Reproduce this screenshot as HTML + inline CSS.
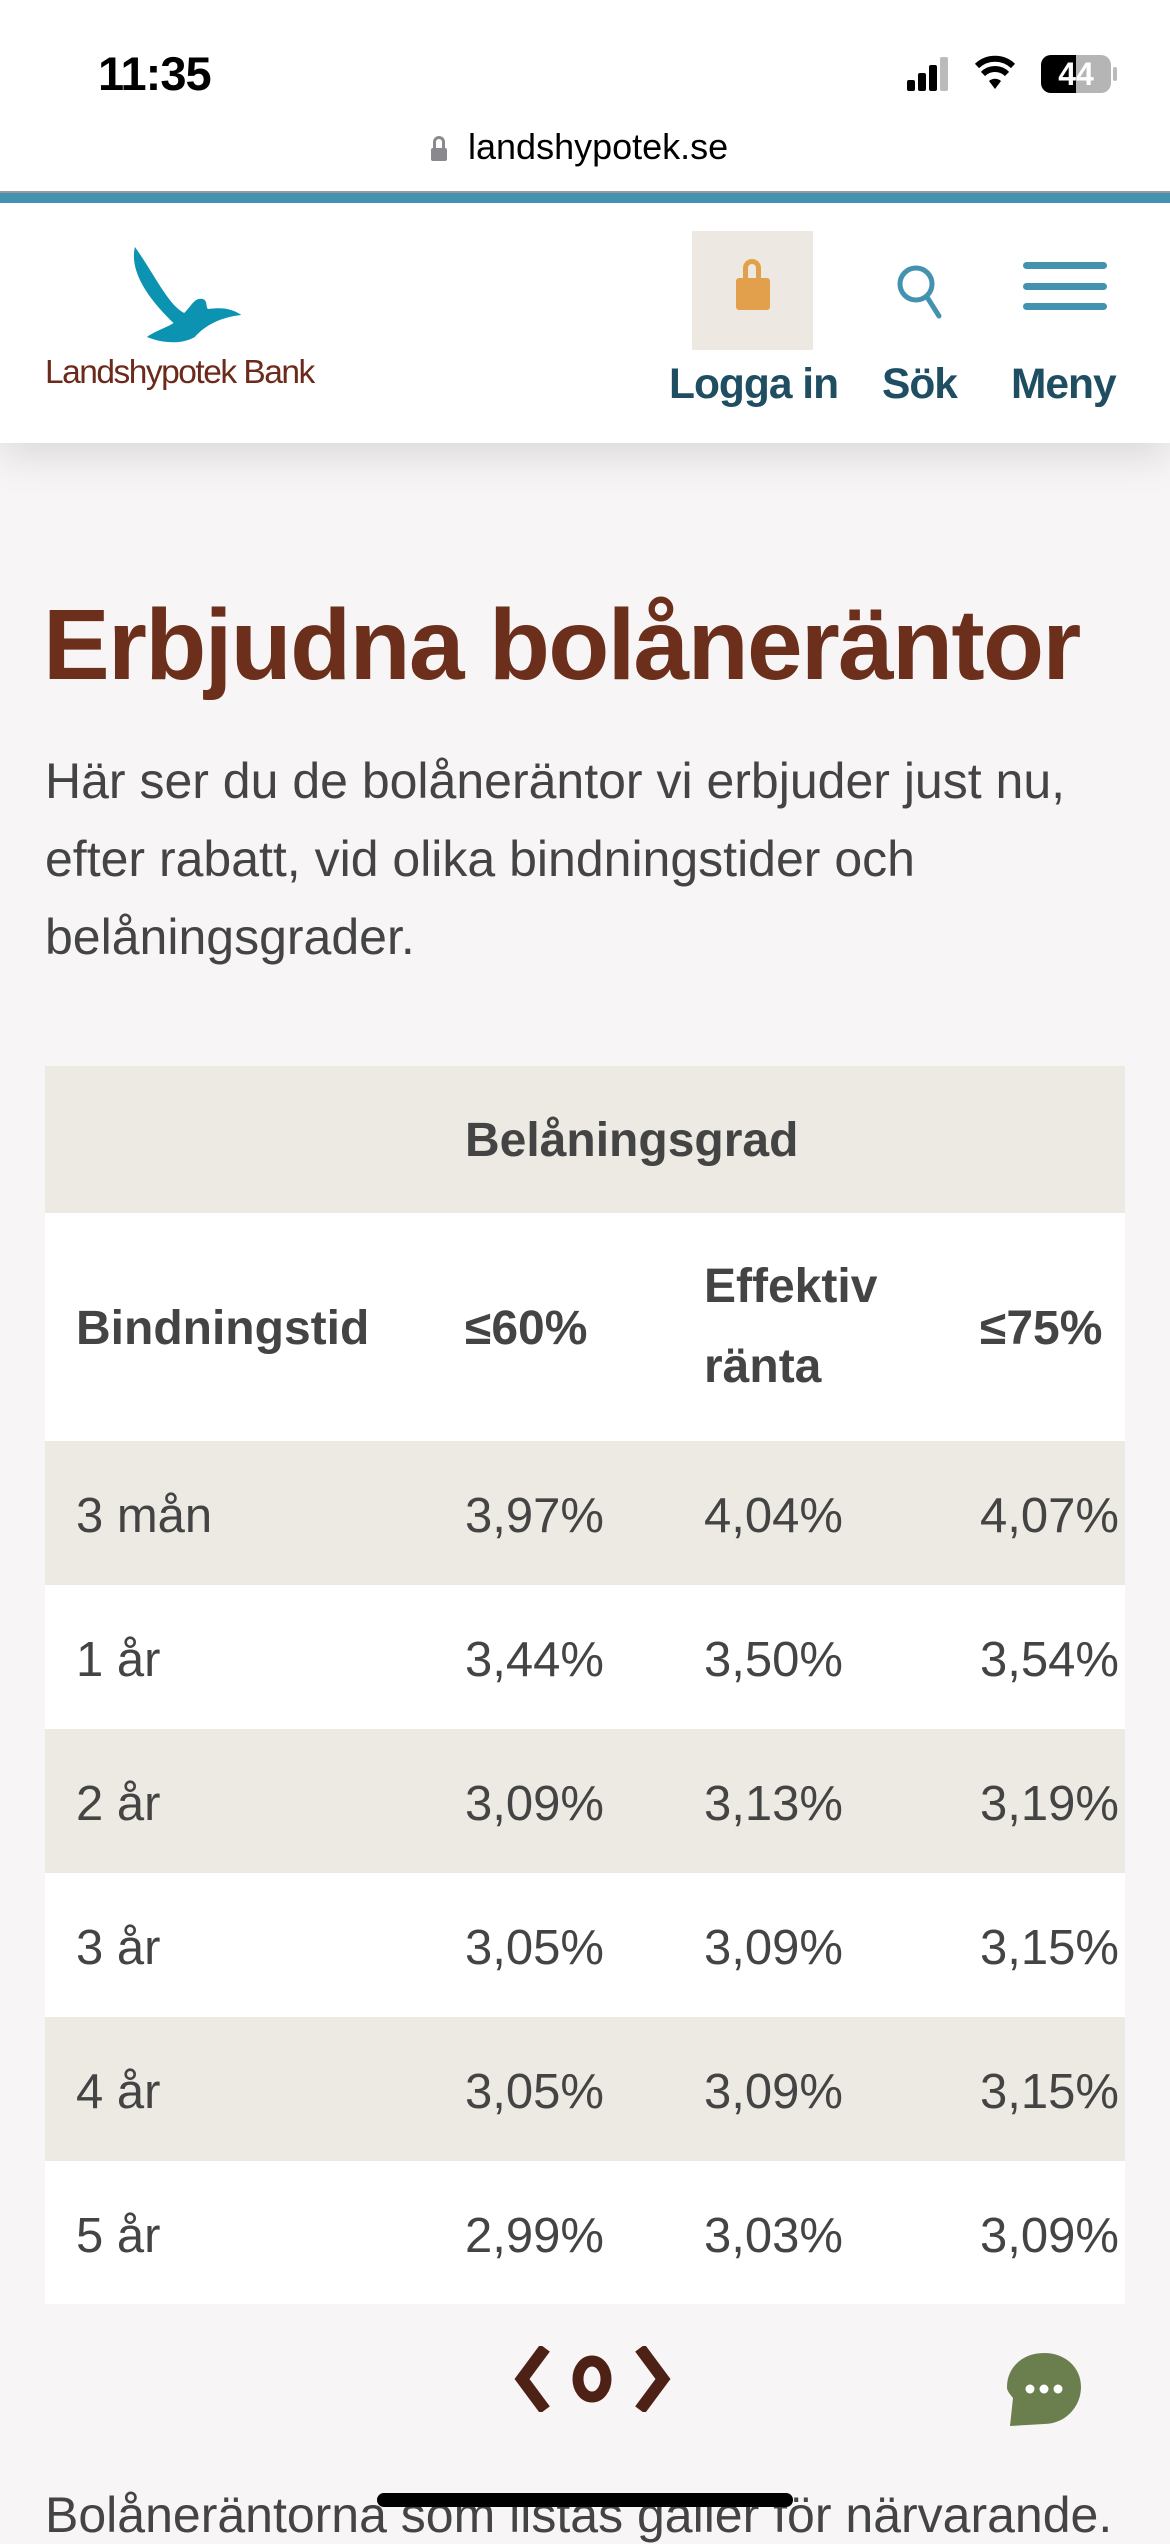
<!DOCTYPE html>
<html><head><meta charset="utf-8">
<style>
*{margin:0;padding:0;box-sizing:border-box}
body{width:1170px;height:2532px;overflow:hidden;background:#f7f5f5;font-family:"Liberation Sans",sans-serif;position:relative;color:#444}
.a{position:absolute;white-space:nowrap}
.hdr{position:absolute;left:0;top:0;width:1170px;height:443px;background:#fff;box-shadow:0 12px 40px rgba(0,0,0,0.12)}
.row{position:absolute;left:45px;width:1080px;height:144px}
.cell{position:absolute;font-size:49px;line-height:150px;color:#444}
.hd{font-weight:bold;font-size:48px;color:#444}
.lbl{position:absolute;top:361px;font-weight:bold;font-size:42.5px;color:#1f4e63;letter-spacing:-1px}
</style></head><body>
<div class="hdr"></div>
<div class="a" style="left:98px;top:46px;font-size:47px;font-weight:bold;color:#000;letter-spacing:-1px">11:35</div>
<!-- signal -->
<div class="a" style="left:907px;top:80px;width:8px;height:11px;background:#000;border-radius:2px"></div>
<div class="a" style="left:918px;top:73px;width:8px;height:18px;background:#000;border-radius:2px"></div>
<div class="a" style="left:929px;top:65px;width:8px;height:26px;background:#000;border-radius:2px"></div>
<div class="a" style="left:940px;top:57px;width:8px;height:34px;background:#bbb;border-radius:2px"></div>
<svg class="a" style="left:975px;top:55px" width="40" height="36" viewBox="0 0 40 36"><path d="M20 34 L14 26 A9 9 0 0 1 26 26 Z" fill="#000"/><path d="M8 19 A17 17 0 0 1 32 19" stroke="#000" stroke-width="6" fill="none"/><path d="M2 11 A26 26 0 0 1 38 11" stroke="#000" stroke-width="6" fill="none"/></svg>
<div class="a" style="left:1041px;top:55px;width:70px;height:38px;border-radius:10px;background:#b5b5b5;overflow:hidden"><div style="width:35px;height:38px;background:#000"></div></div>
<div class="a" style="left:1041px;top:55px;width:70px;height:38px;text-align:center;font-size:32px;line-height:38px;font-weight:bold;color:#fff">44</div>
<div class="a" style="left:1113px;top:67px;width:4px;height:14px;background:#bbb;border-radius:2px"></div>
<!-- url -->
<div class="a" style="left:431px;top:136px;width:16px;height:24px;"><div style="width:12px;height:12px;border:3px solid #8a8a8e;border-bottom:none;border-radius:6px 6px 0 0;margin-left:2px"></div><div style="width:16px;height:13px;background:#8a8a8e;border-radius:2px"></div></div>
<div class="a" style="left:468px;top:126px;font-size:36px;color:#000">landshypotek.se</div>
<div class="a" style="left:0;top:191px;width:1170px;height:2px;background:#999"></div>
<div class="a" style="left:0;top:193px;width:1170px;height:10px;background:#4392b0"></div>
<!-- logo -->
<svg class="a" style="left:115px;top:245px" width="130" height="100" viewBox="0 0 130 100" preserveAspectRatio="none"><path d="M15 2 C30 30 40 60 52 68 C58 60 60 52 66 54 C70 56 68 62 70 64 C82 62 88 64 95 70 C80 72 68 80 60 92 C50 100 35 98 24 92 C30 86 40 82 44 78 C30 60 10 30 15 2 Z" fill="#0c93b2" transform="translate(0,0) scale(1.33,1)"/></svg>
<div class="a" style="left:45px;top:354px;font-size:33.5px;color:#6b2a1a;letter-spacing:-1.5px">Landshypotek Bank</div>
<!-- login -->
<div class="a" style="left:692px;top:231px;width:121px;height:119px;background:#ede9e2"></div>
<div class="a" style="left:743px;top:259px;width:18px;height:22px;border:5px solid #e3a04c;border-bottom:none;border-radius:9px 9px 0 0"></div>
<div class="a" style="left:736px;top:278px;width:34px;height:32px;background:#e3a04c;border-radius:3px"></div>
<div class="lbl" style="left:669px">Logga in</div>
<svg class="a" style="left:895px;top:263px" width="50" height="58" viewBox="0 0 50 58"><circle cx="21" cy="21" r="16" stroke="#4392b0" stroke-width="5" fill="none"/><line x1="32" y1="34" x2="44" y2="53" stroke="#4392b0" stroke-width="5" stroke-linecap="round"/></svg>
<div class="lbl" style="left:882px">Sök</div>
<div class="a" style="left:1023px;top:262px;width:84px;height:7px;background:#4392b0;border-radius:4px"></div>
<div class="a" style="left:1023px;top:283px;width:84px;height:7px;background:#4392b0;border-radius:4px"></div>
<div class="a" style="left:1023px;top:303px;width:84px;height:7px;background:#4392b0;border-radius:4px"></div>
<div class="lbl" style="left:1011px">Meny</div>
<!-- title -->
<div class="a" style="left:43px;top:585px;font-size:100px;font-weight:bold;color:#6b2f1c;letter-spacing:-1.7px;line-height:120px">Erbjudna bolåneräntor</div>
<div class="a" style="left:45px;top:742px;font-size:50px;line-height:78px;color:#444;white-space:normal;width:1100px">Här ser du de bolåneräntor vi erbjuder just nu,<br>efter rabatt, vid olika bindningstider och<br>belåningsgrader.</div>
<!-- table -->
<div class="row" style="top:1066px;height:147px;background:#edeae3"><div class="cell hd" style="left:420px;line-height:150px">Belåningsgrad</div></div>
<div class="row" style="top:1213px;height:228px;background:#fff">
<div class="cell hd" style="left:31px;line-height:232px">Bindningstid</div>
<div class="cell hd" style="left:420px;line-height:232px">≤60%</div>
<div class="cell hd" style="left:659px;top:34px;line-height:80px">Effektiv<br>ränta</div>
<div class="cell hd" style="left:935px;line-height:232px">≤75%</div>
</div>
<div class="row" style="top:1441px;background:#edeae3"><div class="cell" style="left:31px">3 mån</div><div class="cell" style="left:420px">3,97%</div><div class="cell" style="left:659px">4,04%</div><div class="cell" style="left:935px">4,07%</div></div>
<div class="row" style="top:1585px;background:#fff"><div class="cell" style="left:31px">1 år</div><div class="cell" style="left:420px">3,44%</div><div class="cell" style="left:659px">3,50%</div><div class="cell" style="left:935px">3,54%</div></div>
<div class="row" style="top:1729px;background:#edeae3"><div class="cell" style="left:31px">2 år</div><div class="cell" style="left:420px">3,09%</div><div class="cell" style="left:659px">3,13%</div><div class="cell" style="left:935px">3,19%</div></div>
<div class="row" style="top:1873px;background:#fff"><div class="cell" style="left:31px">3 år</div><div class="cell" style="left:420px">3,05%</div><div class="cell" style="left:659px">3,09%</div><div class="cell" style="left:935px">3,15%</div></div>
<div class="row" style="top:2017px;background:#edeae3"><div class="cell" style="left:31px">4 år</div><div class="cell" style="left:420px">3,05%</div><div class="cell" style="left:659px">3,09%</div><div class="cell" style="left:935px">3,15%</div></div>
<div class="row" style="top:2161px;height:143px;background:#fff"><div class="cell" style="left:31px">5 år</div><div class="cell" style="left:420px">2,99%</div><div class="cell" style="left:659px">3,03%</div><div class="cell" style="left:935px">3,09%</div></div>
<!-- carousel -->
<svg class="a" style="left:510px;top:2346px" width="165" height="66" viewBox="0 0 165 66"><path d="M35 2 L12 33 L35 64" stroke="#4e2117" stroke-width="12" fill="none"/><ellipse cx="82" cy="33" rx="14" ry="18" stroke="#4e2117" stroke-width="11" fill="none"/><path d="M130 2 L153 33 L130 64" stroke="#4e2117" stroke-width="12" fill="none"/></svg>
<svg class="a" style="left:1005px;top:2350px" width="78" height="78" viewBox="0 0 78 78"><path d="M39 3 C60 3 76 17 76 37 C76 57 60 74 39 74 L5 76 L8 48 C3 42 2 40 2 37 C2 17 18 3 39 3 Z" fill="#6a7f4d"/><circle cx="25" cy="39" r="4.5" fill="#fff"/><circle cx="39" cy="39" r="4.5" fill="#fff"/><circle cx="53" cy="39" r="4.5" fill="#fff"/></svg>
<div class="a" style="left:45px;top:2486px;font-size:50px;color:#444">Bolåneräntorna som listas gäller för närvarande.</div>
<div class="a" style="left:377px;top:2493px;width:416px;height:14px;background:#000;border-radius:7px"></div>
</body></html>
